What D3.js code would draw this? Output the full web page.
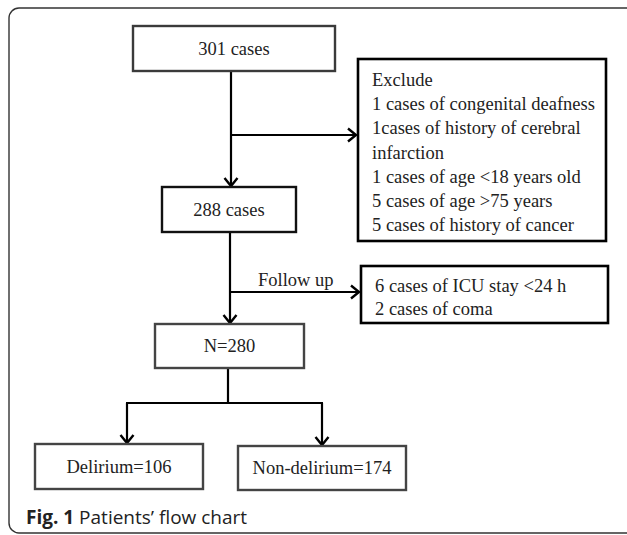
<!DOCTYPE html>
<html>
<head>
<meta charset="utf-8">
<script src="https://cdn.jsdelivr.net/npm/d3@7"></script>
<style>
  html, body { margin: 0; padding: 0; background: #fff; }
</style>
</head>
<body>
<script>
var width = 627;
var height = 535;

// data
var boxLabels = ["301 cases", "288 cases", "N=280", "Delirium=106", "Non-delirium=174"];
var excludeLines = [
    "Exclude",
    "1 cases of congenital deafness",
    "1cases of history of cerebral",
    "infarction",
    "1 cases of age <18 years old",
    "5 cases of age >75 years",
    "5 cases of history of cancer"];
var followLines = ["6 cases of ICU stay <24 h", "2 cases of coma"];
var followLabel = "Follow up";
var captionBold = "Fig. 1";
var captionText = " Patients\u2019 flow chart";

// layout of boxes (pixels)
var boxes = [
    {x0: 133, x1: 335, y0: 26, y1: 71, stroke: "#3a3a3a"},
    {x0: 162, x1: 296, y0: 187, y1: 232, stroke: "#111"},
    {x0: 155, x1: 304, y0: 324, y1: 368, stroke: "#444"},
    {x0: 35, x1: 203, y0: 444, y1: 489, stroke: "#444"},
    {x0: 238, x1: 406, y0: 446, y1: 490, stroke: "#444"}];
var excludeBox = {x0: 358, x1: 606, y0: 59, y1: 241};
var followBox = {x0: 361, x1: 608, y0: 266, y1: 323};

var svg = d3.select("body")
    .append("svg")
    .attr("width", width)
    .attr("height", height);

svg.append("rect")
    .attr("width", width)
    .attr("height", height)
    .attr("fill", "#fff");

var defs = svg.append("defs");
defs.append("marker")
    .attr("id", "arrow")
    .attr("markerUnits", "userSpaceOnUse")
    .attr("viewBox", "-10 -8 12 16")
    .attr("markerWidth", 12)
    .attr("markerHeight", 16)
    .attr("refX", 0)
    .attr("refY", 0)
    .attr("orient", "auto")
    .append("path")
    .attr("d", "M-8,-6.5L0,0L-8,6.5")
    .attr("fill", "none")
    .attr("stroke", "#000")
    .attr("stroke-width", 2.4);

// outer frame with rounded left corners
var r = 10;
svg.append("path")
    .attr("d", "M" + (width + 5) + ",8H" + (9 + r) + "A" + r + "," + r + " 0 0 0 9," + (8 + r) +
        "V" + (533 - r) + "A" + r + "," + r + " 0 0 0 " + (9 + r) + ",533H" + (width + 5))
    .attr("fill", "none")
    .attr("stroke", "#333")
    .attr("stroke-width", 1.4);

// connectors
var links = [
    [[231, 71], [231, 186]],
    [[231, 135], [356, 135]],
    [[230, 232], [230, 323]],
    [[230, 292], [359, 292]],
    [[127, 403], [127, 443]],
    [[322, 403], [322, 445]]];
var line = d3.line();
svg.append("g")
    .selectAll("path")
    .data(links)
    .enter()
    .append("path")
    .attr("d", line)
    .attr("fill", "none")
    .attr("stroke", "#000")
    .attr("stroke-width", 2.2)
    .attr("marker-end", "url(#arrow)");

svg.append("path")
    .attr("d", line([[228, 368], [228, 403]]) + line([[126, 403], [323, 403]]))
    .attr("fill", "none")
    .attr("stroke", "#000")
    .attr("stroke-width", 2.2);

// boxes
var g = svg.append("g").attr("class", "boxes");
g.selectAll("rect")
    .data(boxes)
    .enter()
    .append("rect")
    .attr("x", function(d) { return d.x0; })
    .attr("y", function(d) { return d.y0; })
    .attr("width", function(d) { return d.x1 - d.x0; })
    .attr("height", function(d) { return d.y1 - d.y0; })
    .attr("fill", "#fff")
    .attr("stroke", function(d) { return d.stroke; })
    .attr("stroke-width", 2.4);

g.selectAll("text")
    .data(boxes)
    .enter()
    .append("text")
    .attr("x", function(d) { return (d.x0 + d.x1) / 2; })
    .attr("y", function(d) { return (d.y0 + d.y1) / 2 + 6; })
    .attr("text-anchor", "middle")
    .attr("font-family", "'Liberation Serif', 'Times New Roman', serif")
    .attr("font-size", 18.5)
    .attr("fill", "#222")
    .text(function(d, i) { return boxLabels[i]; });

// side boxes with text lists
function listBox(b, lines, top, step) {
    svg.append("rect")
        .attr("x", b.x0)
        .attr("y", b.y0)
        .attr("width", b.x1 - b.x0)
        .attr("height", b.y1 - b.y0)
        .attr("fill", "#fff")
        .attr("stroke", "#000")
        .attr("stroke-width", 2.6);
    svg.append("g")
        .selectAll("text")
        .data(lines)
        .enter()
        .append("text")
        .attr("x", b.x0 + 14)
        .attr("y", function(d, i) { return top + i * step; })
        .attr("font-family", "'Liberation Serif', 'Times New Roman', serif")
        .attr("font-size", 18.5)
        .attr("fill", "#222")
        .text(function(d) { return d; });
}
listBox(excludeBox, excludeLines, 86, 24.2);
listBox(followBox, followLines, 292, 23);

svg.append("text")
    .attr("x", 258)
    .attr("y", 286)
    .attr("font-family", "'Liberation Serif', 'Times New Roman', serif")
    .attr("font-size", 18.5)
    .attr("fill", "#222")
    .text(followLabel);

// caption
var cap = svg.append("text")
    .attr("x", 26)
    .attr("y", 524)
    .attr("font-family", "'Open Sans', 'Noto Sans', sans-serif")
    .attr("font-size", 19)
    .attr("fill", "#222");
cap.append("tspan").attr("font-weight", "bold").text(captionBold);
cap.append("tspan").text(captionText);
</script>
</body>
</html>
